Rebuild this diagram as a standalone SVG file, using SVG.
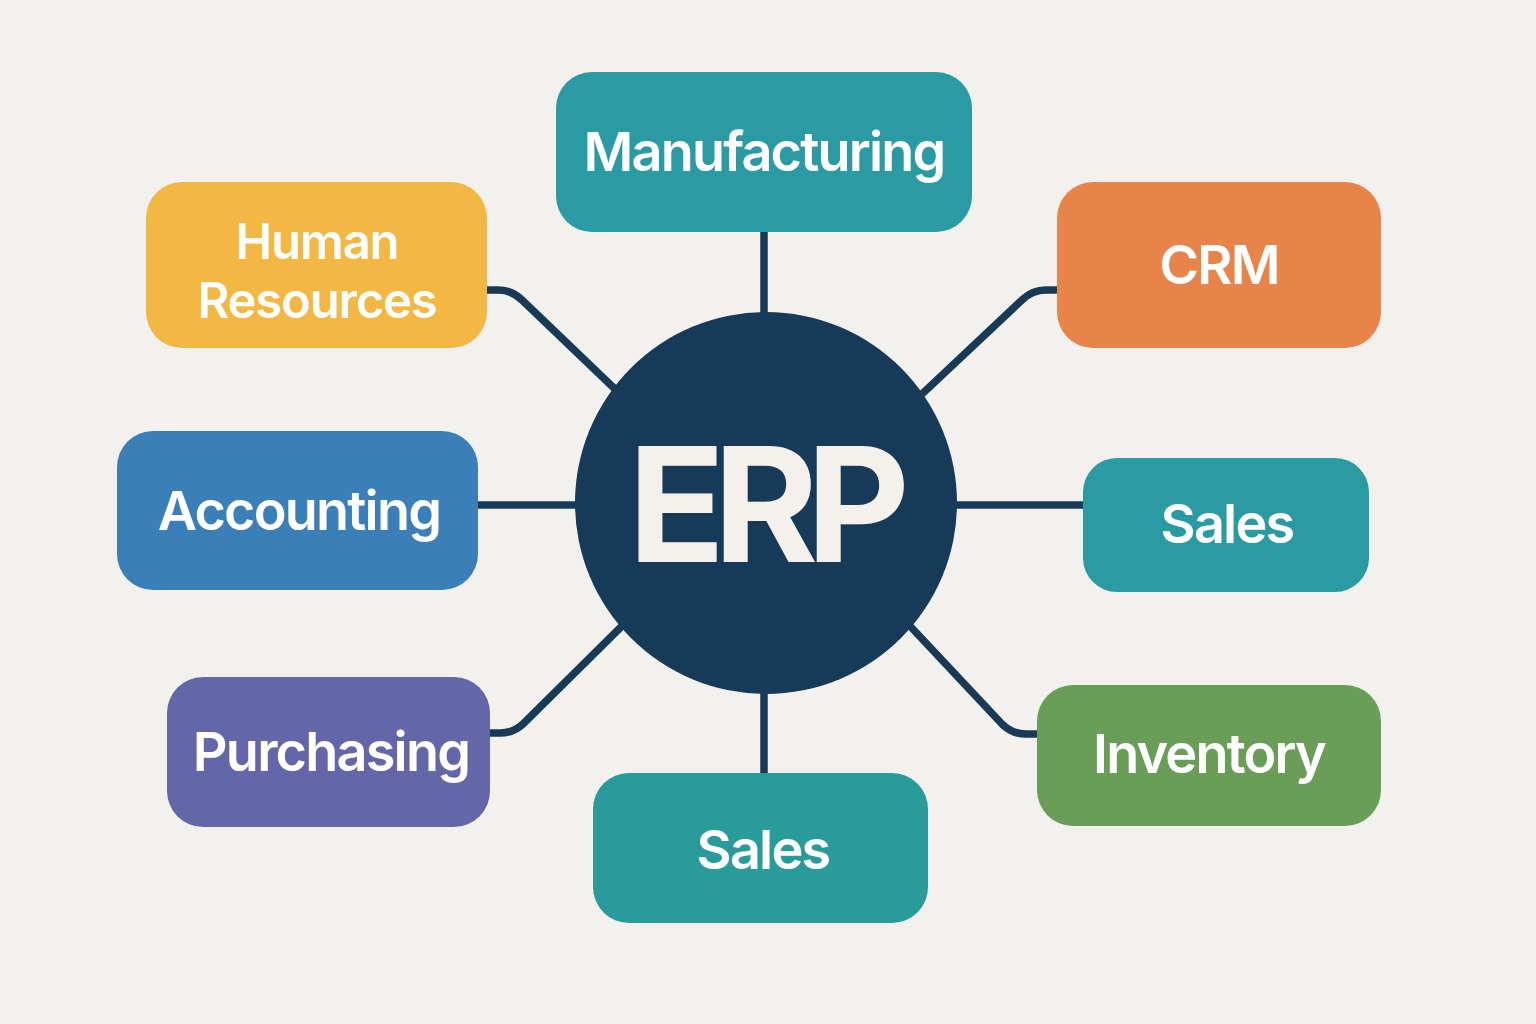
<svg xmlns="http://www.w3.org/2000/svg" width="1536" height="1024" viewBox="0 0 1536 1024">
<style>
.lbl{font-family:Inter,"Open Sans","Liberation Sans",sans-serif;font-weight:600;fill:#ffffff;text-anchor:middle;font-size:54px;letter-spacing:-1.8px}
.lbl2{font-size:49px;letter-spacing:-1.2px}
.conn{fill:none;stroke:#183a57;stroke-width:7.5;stroke-linecap:butt;stroke-linejoin:round}
</style>
<rect width="1536" height="1024" fill="#f3f1ed"/>
<g id="connectors">
<path class="conn" d="M764 232 V320"/>
<path class="conn" d="M764 690 V774"/>
<path class="conn" d="M478 505 H580"/>
<path class="conn" d="M952 505 H1084"/>
<path class="conn" d="M487 290 H498 Q512 290 522 300 L616 390"/>
<path class="conn" d="M1057 290 H1046 Q1032 290 1022 300 L922 394"/>
<path class="conn" d="M490 733 H500 Q514 733 524 723 L622 626"/>
<path class="conn" d="M1037 734 H1026 Q1012 734 1002 724 L910 626"/>
</g>
<g id="erp">
<circle cx="766" cy="503" r="191" fill="#173a58"/>
<text x="763" y="562" font-family="Inter,'Liberation Sans',sans-serif" font-weight="700" font-size="160" fill="#f4f1ec" text-anchor="middle" letter-spacing="-12">ERP</text>
</g>
<g id="manufacturing">
<rect x="556" y="72" width="416" height="160" rx="36" fill="#2a9ba2"/>
<text class="lbl" x="764" y="171">Manufacturing</text>
</g>
<g id="human-resources">
<rect x="146" y="182" width="341" height="166" rx="36" fill="#f2b843"/>
<text class="lbl lbl2"><tspan x="317" y="259">Human</tspan><tspan x="317" y="318">Resources</tspan></text>
</g>
<g id="crm">
<rect x="1057" y="182" width="324" height="166" rx="36" fill="#e8834a"/>
<text class="lbl" x="1219" y="284">CRM</text>
</g>
<g id="accounting">
<rect x="117" y="431" width="361" height="159" rx="36" fill="#3a7fb7"/>
<text class="lbl" x="299" y="530">Accounting</text>
</g>
<g id="sales-right">
<rect x="1083" y="458" width="286" height="134" rx="34" fill="#2a9ba2"/>
<text class="lbl" x="1227" y="543">Sales</text>
</g>
<g id="purchasing">
<rect x="167" y="677" width="323" height="150" rx="36" fill="#6467a7"/>
<text class="lbl" x="331" y="771">Purchasing</text>
</g>
<g id="inventory">
<rect x="1037" y="685" width="344" height="141" rx="36" fill="#6a9e58"/>
<text class="lbl" x="1209" y="773">Inventory</text>
</g>
<g id="sales-bottom">
<rect x="593" y="773" width="335" height="150" rx="36" fill="#2a9b9b"/>
<text class="lbl" x="763" y="869">Sales</text>
</g>
</svg>
